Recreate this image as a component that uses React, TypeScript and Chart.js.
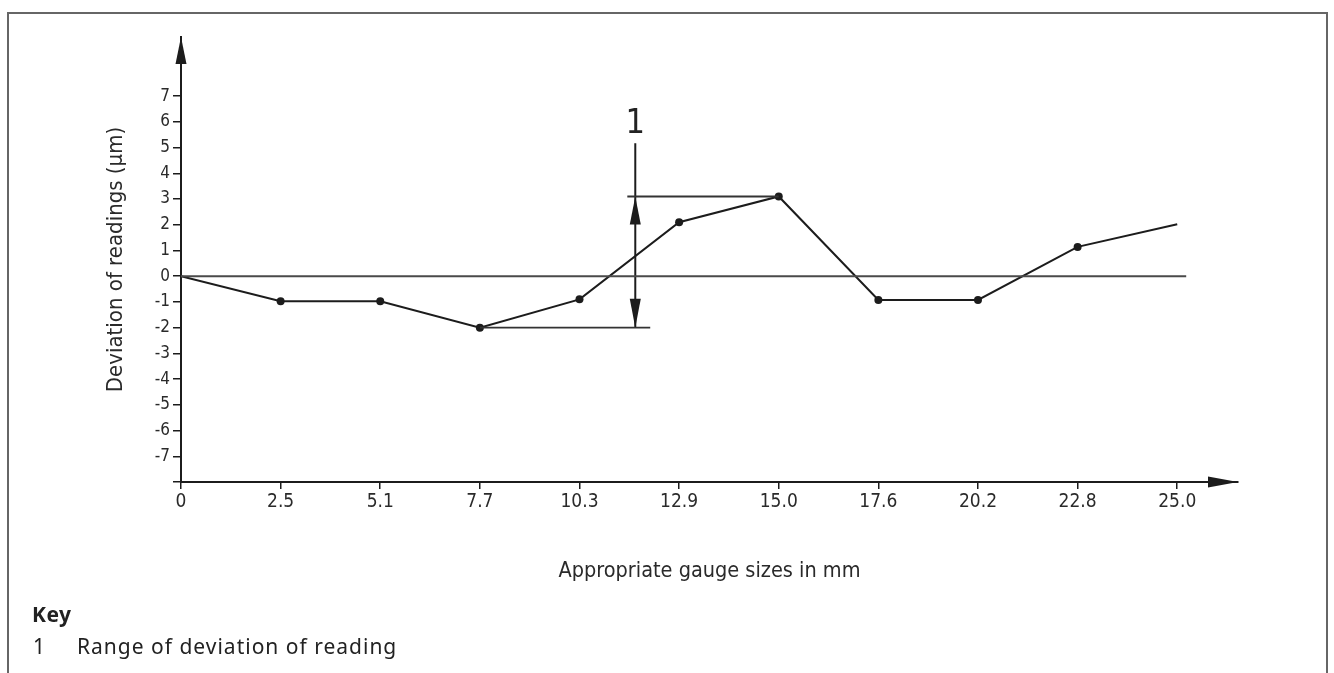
import React, { useEffect, useRef } from "react";
import { Chart, registerables } from "chart.js";

Chart.register(...registerables);

// ---- data ----
const gaugeSizes = ["0", "2.5", "5.1", "7.7", "10.3", "12.9", "15.0", "17.6", "20.2", "22.8", "25.0"];
const deviation = [0, -0.97, -0.97, -2.0, -0.9, 2.1, 3.1, -0.92, -0.92, 1.14, 2.02];
const yTickValues = [-8, -7, -6, -5, -4, -3, -2, -1, 0, 1, 2, 3, 4, 5, 6, 7];
const yLabelValues = [-7, -6, -5, -4, -3, -2, -1, 0, 1, 2, 3, 4, 5, 6, 7];

// range annotation (data units)
const rangeMax = 3.1;
const rangeMin = -2.0;
const rangeIndicatorX = 4.56;
const rangeTopExtent = [4.48, 6];
const rangeBottomExtent = [3, 4.71];
const rangeLineTopY = 5.17;
const rangeLabelY = 5.9;
const rangeLabel = "1";

const zeroLineEnd = 10.09;
const X_MIN = 0;
const X_MAX = 10.61;
const Y_MIN = -8;
const Y_MAX = 9.3;

const DIN = "'DejaVu Sans Condensed', 'Liberation Sans Narrow', Roboto, sans-serif";
const INK = "#1c1c1c";

const arrowPlugin = {
  id: "arrows",
  afterDatasetsDraw(chart: any) {
    const { ctx, chartArea, scales } = chart;
    const xs = scales.x;
    const ys = scales.y;
    ctx.save();
    ctx.fillStyle = INK;
    const tri = (pts: number[][]) => {
      ctx.beginPath();
      ctx.moveTo(pts[0][0], pts[0][1]);
      ctx.lineTo(pts[1][0], pts[1][1]);
      ctx.lineTo(pts[2][0], pts[2][1]);
      ctx.closePath();
      ctx.fill();
    };
    // y axis arrow
    const ax = chartArea.left;
    tri([[ax, chartArea.top], [ax - 5.5, chartArea.top + 27], [ax + 5.5, chartArea.top + 27]]);
    // x axis arrow
    const ay = chartArea.bottom;
    tri([[chartArea.right, ay], [chartArea.right - 30, ay - 5.5], [chartArea.right - 30, ay + 5.5]]);
    // range arrows
    const rx = xs.getPixelForValue(rangeIndicatorX);
    const top = ys.getPixelForValue(rangeMax);
    const bot = ys.getPixelForValue(rangeMin);
    tri([[rx, top], [rx - 5.5, top + 28], [rx + 5.5, top + 28]]);
    tri([[rx, bot], [rx - 5.5, bot - 29], [rx + 5.5, bot - 29]]);
    // label
    ctx.font = "400 34px " + DIN;
    ctx.textAlign = "center";
    ctx.textBaseline = "middle";
    ctx.fillStyle = "#222";
    ctx.fillText(rangeLabel, rx, ys.getPixelForValue(rangeLabelY));
    ctx.restore();
  },
};

export default function App() {
  const canvasRef = useRef<HTMLCanvasElement | null>(null);

  useEffect(() => {
    const canvas = canvasRef.current;
    if (!canvas) return;
    const mainPoints = deviation.map((v, i) => ({ x: i, y: v }));
    const lastIdx = deviation.length - 1;
    const chart = new Chart(canvas, {
      type: "line",
      data: {
        datasets: [
          {
            label: "zero",
            data: [
              { x: 0, y: 0 },
              { x: zeroLineEnd, y: 0 },
            ],
            borderColor: "#4a4a4a",
            borderWidth: 2,
            pointRadius: 0,
          },
          {
            label: "top extent",
            data: [
              { x: rangeTopExtent[0], y: rangeMax },
              { x: rangeTopExtent[1], y: rangeMax },
            ],
            borderColor: "#333",
            borderWidth: 1.8,
            pointRadius: 0,
          },
          {
            label: "bottom extent",
            data: [
              { x: rangeBottomExtent[0], y: rangeMin },
              { x: rangeBottomExtent[1], y: rangeMin },
            ],
            borderColor: "#333",
            borderWidth: 1.8,
            pointRadius: 0,
          },
          {
            label: "range",
            data: [
              { x: rangeIndicatorX, y: rangeMin },
              { x: rangeIndicatorX, y: rangeLineTopY },
            ],
            borderColor: INK,
            borderWidth: 2,
            pointRadius: 0,
          },
          {
            label: "deviation",
            data: mainPoints,
            borderColor: INK,
            borderWidth: 2,
            pointRadius: (c: any) => (c.dataIndex === 0 || c.dataIndex === lastIdx ? 0 : 4),
            pointBackgroundColor: INK,
            pointBorderWidth: 0,
          },
        ],
      },
      options: {
        animation: false,
        responsive: false,
        layout: { padding: { left: 0, top: 37, right: 96, bottom: 81 } },
        plugins: { legend: { display: false }, tooltip: { enabled: false } },
        scales: {
          x: {
            type: "linear",
            min: X_MIN,
            max: X_MAX,
            afterFit: (s: any) => {
              s.height = 110;
            },
            afterBuildTicks: (s: any) => {
              s.ticks = gaugeSizes.map((_, i) => ({ value: i }));
            },
            border: { display: true, color: INK, width: 2 },
            grid: { drawOnChartArea: false, drawTicks: true, tickLength: 7, color: INK, lineWidth: 1.5 },
            ticks: {
              autoSkip: false,
              maxRotation: 0,
              padding: 2,
              color: "#2a2a2a",
              font: { family: DIN, size: 19 },
              callback: (v: any) => gaugeSizes[Math.round(Number(v))] ?? "",
            },
            title: {
              display: true,
              text: "Appropriate gauge sizes in mm",
              color: "#2a2a2a",
              font: { family: DIN, size: 21.5 },
              padding: { top: 0, bottom: 8 },
            },
          },
          y: {
            type: "linear",
            min: Y_MIN,
            max: Y_MAX,
            afterFit: (s: any) => {
              s.width = 181;
            },
            afterBuildTicks: (s: any) => {
              s.ticks = yTickValues.map((v) => ({ value: v }));
            },
            border: { display: true, color: INK, width: 2 },
            grid: { drawOnChartArea: false, drawTicks: true, tickLength: 8, color: INK, lineWidth: 1.5 },
            ticks: {
              autoSkip: false,
              padding: 3,
              color: "#2a2a2a",
              font: { family: DIN, size: 17 },
              callback: (v: any) => (yLabelValues.includes(Number(v)) ? String(v) : ""),
            },
            title: {
              display: true,
              text: "Deviation of readings (μm)",
              color: "#2a2a2a",
              font: { family: DIN, size: 22 },
              padding: { top: 103.5, bottom: 0 },
            },
          },
        },
      },
      plugins: [arrowPlugin],
    } as any);
    return () => chart.destroy();
  }, []);

  const keyFont = "'Noto Sans', 'Open Sans', sans-serif";
  return (
    <div style={{ position: "absolute", left: 0, top: 0, width: 1334, height: 673, overflow: "hidden", background: "#fff" }}>
      <div
        style={{
          position: "absolute",
          left: 7,
          top: 12,
          width: 1321,
          height: 720,
          border: "2px solid #666",
          boxSizing: "border-box",
        }}
      />
      <canvas ref={canvasRef} width={1334} height={673} style={{ position: "absolute", left: 0, top: 0, width: 1334, height: 673 }} />
      <div
        style={{
          position: "absolute",
          left: 32,
          top: 604,
          font: `bold 21px ${keyFont}`,
          lineHeight: "21px",
          letterSpacing: "0.5px",
          color: "#222",
        }}
      >
        Key
      </div>
      <div
        style={{
          position: "absolute",
          left: 33,
          top: 636,
          font: `21px ${keyFont}`,
          lineHeight: "21px",
          color: "#222",
        }}
      >
        1
      </div>
      <div
        style={{
          position: "absolute",
          left: 77,
          top: 636,
          font: `21px ${keyFont}`,
          lineHeight: "21px",
          letterSpacing: "1px",
          color: "#222",
        }}
      >
        Range of deviation of reading
      </div>
    </div>
  );
}
